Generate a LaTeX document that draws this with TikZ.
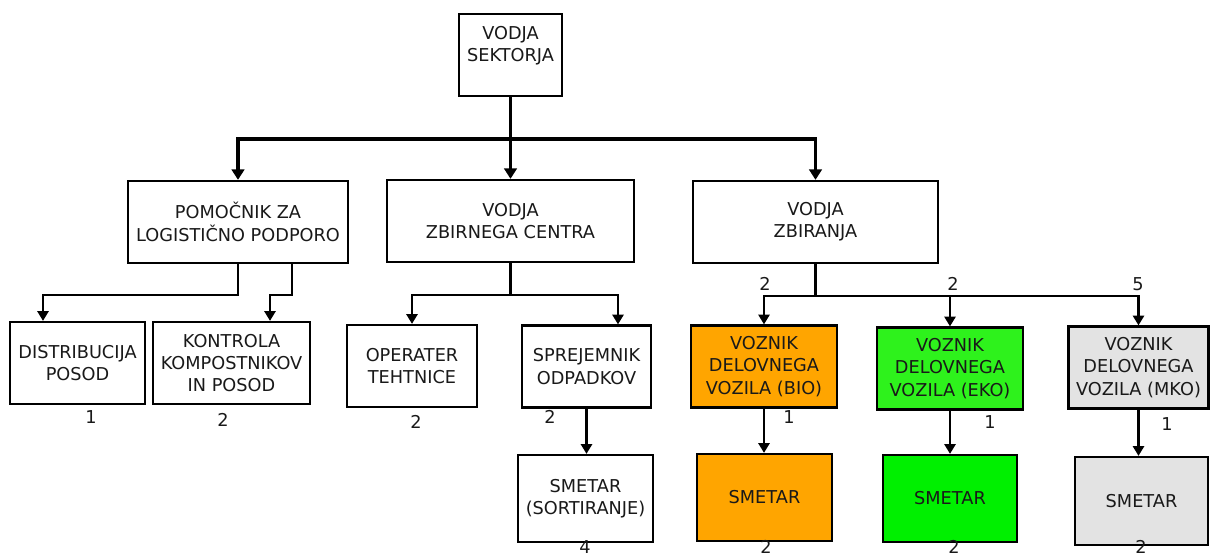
\documentclass[tikz,border=0pt]{standalone}
\usepackage{fontspec}
\setmainfont{DejaVu Sans}
\usetikzlibrary{arrows.meta,positioning,calc}
\definecolor{bioor}{RGB}{255,165,0}
\definecolor{ekogr}{RGB}{46,242,28}
\definecolor{ekogrb}{RGB}{0,240,0}
\definecolor{mkogr}{RGB}{227,227,227}

\begin{document}
\begin{tikzpicture}[x=0.025cm,y=-0.025cm,
    box/.style={draw,line width=1.6pt,align=center,inner sep=0pt,text=black!90,
        minimum height=2.05cm,font=\fontsize{12.6}{15.8}\selectfont},
    num/.style={inner sep=0pt,text=black!90,font=\fontsize{12.6}{14}\selectfont},
    trunk/.style={line width=2.4pt},
    topconn/.style={line width=2.4pt,-{Triangle[width=9pt,length=7.5pt]}},
    stemline/.style={line width=1.6pt},
    conn/.style={line width=1.6pt,-{Triangle[width=8pt,length=7pt]}}]
    \useasboundingbox[fill=white] (0,0) rectangle (1210,557);

    % vodstvo
    \node[box,minimum width=2.575cm] (vs) at (510.5,55) {VODJA\\SEKTORJA\\~};
    \node[box,minimum width=5.5cm] (pom) at (238,222) {POMOČNIK ZA\\LOGISTIČNO PODPORO};
    \node[box,minimum width=6.175cm] (zc) at (510.5,221) {VODJA\\ZBIRNEGA CENTRA};
    \node[box,minimum width=6.125cm] (zb) at (815.5,222) {VODJA\\ZBIRANJA};

    % logistika
    \node[box,minimum width=3.375cm] (dist) at (77.5,363) {DISTRIBUCIJA\\POSOD};
    \node[box,minimum width=3.925cm] (kon) at (231.5,363) {KONTROLA\\KOMPOSTNIKOV\\IN POSOD};

    % zbirni center
    \node[box,minimum width=3.25cm] (op) at (412,366) {OPERATER\\TEHTNICE};
    \node[box,minimum width=3.225cm] (spr) at (586.5,366.5) {SPREJEMNIK\\ODPADKOV};
    \node[box,minimum width=3.375cm,minimum height=2.175cm] (sort) at (585.5,498.5) {SMETAR\\(SORTIRANJE)};

    % zbiranje
    \node[box,fill=bioor,minimum width=3.65cm] (bio) at (764,366.5) {VOZNIK\\DELOVNEGA\\VOZILA (BIO)};
    \node[box,fill=ekogr,minimum width=3.65cm] (eko) at (950,368.5) {VOZNIK\\DELOVNEGA\\VOZILA (EKO)};
    \node[box,fill=mkogr,minimum width=3.5cm] (mko) at (1138.5,367.5) {VOZNIK\\DELOVNEGA\\VOZILA (MKO)};
    \node[box,fill=bioor,minimum width=3.375cm,minimum height=2.175cm] (smb) at (764.5,497.5) {SMETAR};
    \node[box,fill=ekogrb,minimum width=3.35cm,minimum height=2.175cm] (sme) at (950,498.5) {SMETAR};
    \node[box,fill=mkogr,minimum width=3.325cm,minimum height=2.2cm] (smm) at (1141.5,501) {SMETAR};

    % povezave
    \coordinate (j0) at (vs.south |- 0,139);
    \draw[trunk] (vs.south) -- (j0);
    \draw[topconn] (j0) -| (pom.north);
    \draw[topconn] (j0) -- (zc.north);
    \draw[topconn] (j0) -| (zb.north);

    \draw[conn] (pom.south) -- ++(0,31) -| ($(dist.north)+(-34.5,0)$);
    \draw[conn] ($(pom.south)+(54,0)$) -- ++(0,31) -| ($(kon.north)+(38.5,0)$);

    \coordinate (j1) at ($(zc.south)+(0,32)$);
    \draw[stemline] (zc.south) -- (j1);
    \draw[conn] (j1) -| (op.north);
    \draw[conn] (j1) -| ($(spr.north)+(31.5,0)$);
    \draw[conn] (spr.south) -- (spr.south |- sort.north);

    \coordinate (j2) at ($(zb.south)+(0,32)$);
    \draw[stemline] (zb.south) -- (j2);
    \draw[conn] (j2) -| (bio.north);
    \draw[conn] (j2) -| (eko.north);
    \draw[conn] (j2) -| (mko.north);
    \draw[conn] (bio.south) -- (bio.south |- smb.north);
    \draw[conn] (eko.south) -- (eko.south |- sme.north);
    \draw[conn] (mko.south) -- (mko.south |- smm.north);

    % stevilo zaposlenih
    \node[num] (n_dist) at (91,417) {1};
    \node[num] (n_kon) at (223,420) {2};
    \node[num] (n_op) at (416,422) {2};
    \node[num] (n_spr) at (550,417) {2};
    \node[num] (n_sort) at (585,547) {4};
    \node[num] (n_bio) at (765,284) {2};
    \node[num] (n_eko) at (953,284) {2};
    \node[num] (n_mko) at (1138,284) {5};
    \node[num] (n_vb) at (789,417) {1};
    \node[num] (n_ve) at (990,422) {1};
    \node[num] (n_vm) at (1167,424) {1};
    \node[num] (n_smb) at (766,547) {2};
    \node[num] (n_sme) at (954,547) {2};
    \node[num] (n_smm) at (1141,547) {2};
\end{tikzpicture}
\end{document}
